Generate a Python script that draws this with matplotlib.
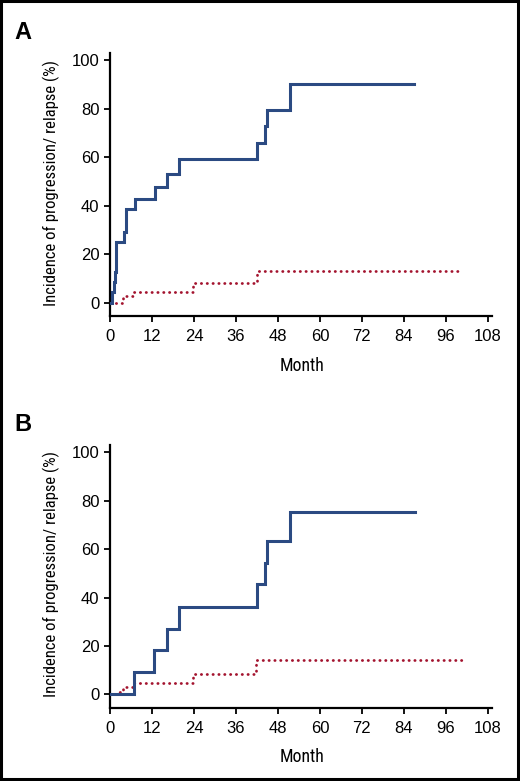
import matplotlib
matplotlib.use("Agg")
import matplotlib.pyplot as plt
from matplotlib.patches import Rectangle
from matplotlib import font_manager
from matplotlib.font_manager import FontProperties

# ---------------- data ----------------
months_ticks = [0, 12, 24, 36, 48, 60, 72, 84, 96, 108]
pct_ticks = [0, 20, 40, 60, 80, 100]

a_blue_t = [0, 0.5, 1.1, 1.4, 1.7, 4.1, 4.5, 4.7, 7.1, 12.8, 16.3, 19.7, 42.0, 44.2, 44.9, 51.4, 86.9]
a_blue_v = [0, 4.4, 8.6, 12.8, 25.0, 29.2, 33.8, 38.5, 42.8, 47.6, 53.3, 59.5, 66.1, 73.1, 79.7, 90.2, 90.2]
a_red_t = [0, 3.6, 6.9, 23.6, 42.0, 99.7]
a_red_v = [0, 2.9, 4.4, 8.2, 13.2, 13.2]

b_blue_t = [0, 7.0, 12.5, 16.4, 19.6, 42.0, 44.2, 44.9, 51.5, 87.1]
b_blue_v = [0, 9.4, 18.3, 27.1, 36.3, 45.5, 54.3, 63.2, 75.4, 75.4]
b_red_t = [0, 1.8, 3.6, 6.9, 23.6, 41.8, 101.0]
b_red_v = [0, 0.8, 3.1, 4.8, 8.3, 14.3, 14.3]

panel_labels = ["A", "B"]
ylabel_text = "Incidence of progression/ relapse (%)"
xlabel_text = "Month"

BLUE = "#2b4a82"
RED = "#a3132e"

# look for a condensed sans face among installed fonts
def find_condensed():
    prefs = ["Liberation Sans Narrow", "Roboto Condensed", "Open Sans Condensed",
             "Noto Sans", "DejaVu Sans", "Open Sans", "Roboto"]
    cands = []
    for f in font_manager.fontManager.ttflist:
        st = str(f.stretch)
        cond = st in ("condensed", "semi-condensed", "extra-condensed") or \
            "Narrow" in f.name or "Condensed" in f.name or "Cond" in f.fname
        if cond and f.style == "normal" and (f.weight in (400, "normal", "regular", "book")):
            cands.append(f)
    for p in prefs:
        for f in cands:
            if f.name == p:
                return FontProperties(fname=f.fname)
    if cands:
        return FontProperties(fname=cands[0].fname)
    return None

cond_fp = find_condensed()
tickfont = "Liberation Sans"

W, H = 520, 781
fig = plt.figure(figsize=(W / 100, H / 100), dpi=100)

def fx(px):
    return px / W

def fy(py):
    return 1 - py / H

panels = [
    dict(top=53, bottom=316, blue=(a_blue_t, a_blue_v), red=(a_red_t, a_red_v),
         lab_base=39, month_base=371),
    dict(top=445, bottom=707.5, blue=(b_blue_t, b_blue_v), red=(b_red_t, b_red_v),
         lab_base=431, month_base=762.5),
]

def label_kwargs(size):
    if cond_fp is not None:
        fp = cond_fp.copy()
        fp.set_size(size)
        return dict(fontproperties=fp)
    return dict(fontfamily="Liberation Sans", fontsize=size - 1.3)

for i, p in enumerate(panels):
    left, right = 110, 492
    ax = fig.add_axes([fx(left), fy(p["bottom"]), (right - left) / W, (p["bottom"] - p["top"]) / H])
    ax.set_xlim(0, 109.2)
    ax.set_ylim(-5.4, 103)
    bt, bv = p["blue"]
    rt, rv = p["red"]
    ax.step(rt, rv, where="post", color=RED, lw=2.0,
            linestyle=(0, (0.1, 2.0)), dash_capstyle="round", solid_capstyle="round", zorder=2)
    ax.step(bt, bv, where="post", color=BLUE, lw=2.2, zorder=3, solid_joinstyle="miter")
    for s in ["top", "right"]:
        ax.spines[s].set_visible(False)
    for s in ["left", "bottom"]:
        ax.spines[s].set_linewidth(1.6)
        ax.spines[s].set_color("black")
    ax.set_xticks(months_ticks)
    ax.set_yticks(pct_ticks)
    ax.set_xticklabels([str(m) for m in months_ticks], fontfamily=tickfont, fontsize=12)
    ax.set_yticklabels([str(v) for v in pct_ticks], fontfamily=tickfont, fontsize=12)
    ax.tick_params(axis="both", direction="out", length=4.5, width=1.3, color="black",
                   labelcolor="black")
    ax.tick_params(axis="x", pad=5)
    ax.tick_params(axis="y", pad=3)
    fig.text(fx(51), fy((p["top"] + p["bottom"]) / 2 - 2), ylabel_text, rotation=90,
             ha="center", va="center", **label_kwargs(12))
    fig.text(fx(302), fy(p["month_base"]), xlabel_text, ha="center", va="baseline",
             **label_kwargs(12.8))
    fig.text(fx(14), fy(p["lab_base"]), panel_labels[i], ha="left", va="baseline",
             fontfamily="Liberation Sans", fontweight="bold", fontsize=17)

fig.add_artist(Rectangle((fx(1.4), fy(779.4)), fx(517.6) - fx(1.4), fy(1.4) - fy(779.4),
                         transform=fig.transFigure, fill=False, lw=2.2, ec="black"))

fig.savefig("out.png", dpi=100)
